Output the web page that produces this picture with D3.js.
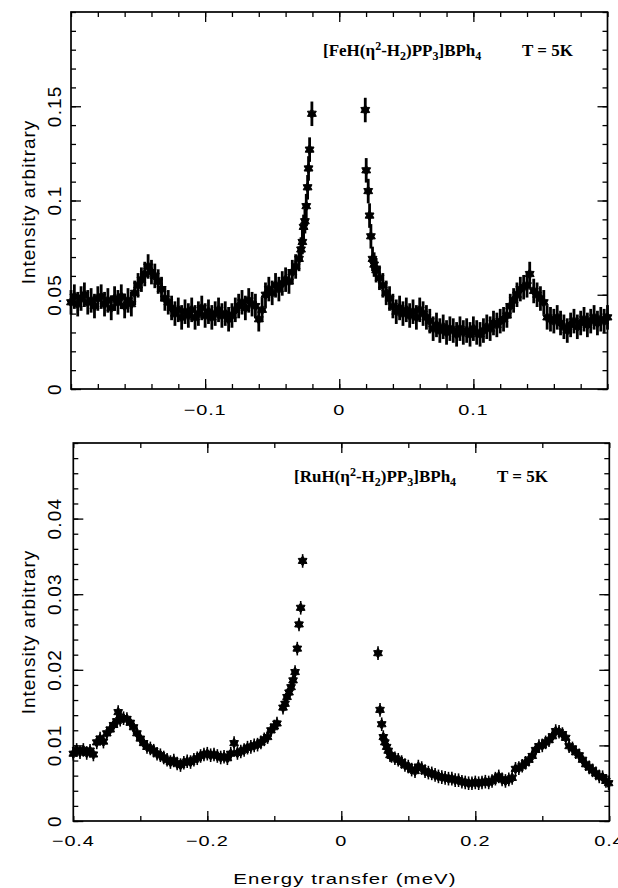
<!DOCTYPE html>
<html>
<head>
<meta charset="utf-8">
<script src="https://cdn.jsdelivr.net/npm/d3@7"></script>
<style>
  body { margin: 0; background: #fff; }
  text { fill: #000; }
</style>
</head>
<body>
<div id="container"></div>
<script>
/* DATA */
// upper panel: [FeH(η2-H2)PP3]BPh4, energy in meV, intensity arbitrary
const feEnergy = [
  -0.2000, -0.1975, -0.1950, -0.1925, -0.1900, -0.1875, -0.1850, -0.1825, -0.1800, -0.1775,
  -0.1750, -0.1725, -0.1700, -0.1675, -0.1650, -0.1625, -0.1600, -0.1575, -0.1550, -0.1525,
  -0.1500, -0.1475, -0.1450, -0.1425, -0.1400, -0.1375, -0.1350, -0.1325, -0.1300, -0.1275,
  -0.1250, -0.1225, -0.1200, -0.1175, -0.1150, -0.1125, -0.1100, -0.1075, -0.1050, -0.1025,
  -0.1000, -0.0975, -0.0950, -0.0925, -0.0900, -0.0875, -0.0850, -0.0825, -0.0800, -0.0775,
  -0.0750, -0.0725, -0.0700, -0.0675, -0.0650, -0.0625, -0.0600, -0.0575, -0.0550, -0.0525,
  -0.0500, -0.0475, -0.0450, -0.0425, -0.0400, -0.0375, -0.0350, -0.0325, -0.0300, -0.0285,
  -0.0275, -0.0266, -0.0256, -0.0246, -0.0236, -0.0229, -0.0221, -0.0204,
  0.0194, 0.0201, 0.0216, 0.0226, 0.0236, 0.0248, 0.0260, 0.0275, 0.0300, 0.0325,
  0.0350, 0.0375, 0.0400, 0.0425, 0.0450, 0.0475, 0.0500, 0.0525, 0.0550, 0.0575,
  0.0600, 0.0625, 0.0650, 0.0675, 0.0700, 0.0725, 0.0750, 0.0775, 0.0800, 0.0825,
  0.0850, 0.0875, 0.0900, 0.0925, 0.0950, 0.0975, 0.1000, 0.1025, 0.1050, 0.1075,
  0.1100, 0.1125, 0.1150, 0.1175, 0.1200, 0.1225, 0.1250, 0.1275, 0.1300, 0.1325,
  0.1350, 0.1375, 0.1400, 0.1420, 0.1450, 0.1475, 0.1500, 0.1525, 0.1550, 0.1575,
  0.1600, 0.1625, 0.1650, 0.1675, 0.1700, 0.1725, 0.1750, 0.1775, 0.1800, 0.1825,
  0.1850, 0.1875, 0.1900, 0.1925, 0.1950, 0.1975, 0.2000
];
const feIntensity = [
  0.046, 0.049, 0.045, 0.048, 0.050, 0.046, 0.047, 0.044, 0.048, 0.049,
  0.045, 0.047, 0.043, 0.048, 0.046, 0.049, 0.044, 0.047, 0.045, 0.051,
  0.055, 0.058, 0.061, 0.065, 0.062, 0.060, 0.057, 0.053, 0.048, 0.046,
  0.043, 0.040, 0.042, 0.038, 0.041, 0.039, 0.042, 0.038, 0.040, 0.043,
  0.039, 0.041, 0.038, 0.040, 0.042, 0.039, 0.040, 0.037, 0.039, 0.042,
  0.044, 0.046, 0.043, 0.047, 0.045, 0.044, 0.037, 0.042, 0.050, 0.053,
  0.051, 0.055, 0.053, 0.056, 0.058, 0.057, 0.062, 0.065, 0.069, 0.074,
  0.078, 0.086, 0.089, 0.097, 0.107, 0.117, 0.127, 0.146,
  0.148, 0.116, 0.105, 0.092, 0.081, 0.069, 0.066, 0.063, 0.059, 0.055,
  0.051, 0.048, 0.044, 0.041, 0.043, 0.040, 0.042, 0.039, 0.041, 0.038,
  0.042, 0.040, 0.038, 0.036, 0.032, 0.034, 0.031, 0.033, 0.030, 0.032,
  0.031, 0.029, 0.032, 0.030, 0.031, 0.029, 0.032, 0.030, 0.029, 0.031,
  0.033, 0.032, 0.035, 0.034, 0.036, 0.037, 0.039, 0.044, 0.047, 0.050,
  0.053, 0.054, 0.055, 0.061, 0.052, 0.050, 0.048, 0.046, 0.038, 0.037,
  0.036, 0.038, 0.035, 0.033, 0.031, 0.034, 0.036, 0.033, 0.035, 0.037,
  0.034, 0.036, 0.038, 0.035, 0.037, 0.036, 0.038
];
const feError = 0.0065;

// lower panel: [RuH(η2-H2)PP3]BPh4
const ruEnergy = [
  -0.400, -0.395, -0.390, -0.385, -0.380, -0.375, -0.370, -0.365, -0.360, -0.355,
  -0.350, -0.345, -0.340, -0.335, -0.333, -0.330, -0.325, -0.320, -0.315, -0.310,
  -0.305, -0.300, -0.295, -0.290, -0.285, -0.280, -0.275, -0.270, -0.265, -0.260,
  -0.255, -0.250, -0.245, -0.240, -0.235, -0.230, -0.225, -0.220, -0.215, -0.210,
  -0.205, -0.200, -0.195, -0.190, -0.185, -0.180, -0.175, -0.170, -0.165, -0.160,
  -0.155, -0.150, -0.145, -0.140, -0.135, -0.130, -0.125, -0.120, -0.115, -0.110,
  -0.105, -0.100, -0.096, -0.087, -0.084, -0.081, -0.078, -0.075, -0.072, -0.069,
  -0.0657, -0.0631, -0.0606, -0.0577,
  0.0548, 0.0578, 0.0603, 0.0627, 0.0650, 0.0677, 0.0700, 0.0727, 0.0750, 0.0800,
  0.0850, 0.0900, 0.0950, 0.1000, 0.1050, 0.1100, 0.1150, 0.1200, 0.1250, 0.1300,
  0.1350, 0.1400, 0.1450, 0.1500, 0.1550, 0.1600, 0.1650, 0.1700, 0.1750, 0.1800,
  0.1850, 0.1900, 0.1950, 0.2000, 0.2050, 0.2100, 0.2150, 0.2200, 0.2250, 0.2300,
  0.2350, 0.2400, 0.2450, 0.2500, 0.2550, 0.2600, 0.2650, 0.2700, 0.2750, 0.2800,
  0.2850, 0.2900, 0.2950, 0.3000, 0.3050, 0.3100, 0.3150, 0.3200, 0.3250, 0.3300,
  0.3350, 0.3400, 0.3450, 0.3500, 0.3550, 0.3600, 0.3650, 0.3700, 0.3750, 0.3800,
  0.3850, 0.3900, 0.3950, 0.3990
];
const ruIntensity = [
  0.0089, 0.0094, 0.0091, 0.0094, 0.0090, 0.0093, 0.0088, 0.0104, 0.0109, 0.0105,
  0.0116, 0.0121, 0.0127, 0.0132, 0.0144, 0.0134, 0.0136, 0.0135, 0.0130, 0.0124,
  0.0116, 0.0109, 0.0103, 0.0098, 0.0096, 0.0093, 0.0089, 0.0087, 0.0084, 0.0081,
  0.0078, 0.0080, 0.0076, 0.0074, 0.0077, 0.0079, 0.0078, 0.0081, 0.0083, 0.0086,
  0.0088, 0.0089, 0.0087, 0.0088, 0.0086, 0.0084, 0.0085, 0.0083, 0.0089, 0.0103,
  0.0090, 0.0092, 0.0094, 0.0097, 0.0098, 0.0100, 0.0101, 0.0104, 0.0108, 0.0111,
  0.0120, 0.0125, 0.0129, 0.0150, 0.0155, 0.0164, 0.0170, 0.0177, 0.0186, 0.0197,
  0.0228, 0.0260, 0.0282, 0.0344,
  0.0222, 0.0147, 0.0128, 0.0111, 0.0104, 0.0098, 0.0093, 0.0087, 0.0086, 0.0083,
  0.0081, 0.0078, 0.0074, 0.0072, 0.0068, 0.0066, 0.0072, 0.0070, 0.0066, 0.0064,
  0.0063, 0.0061, 0.0059, 0.0058, 0.0057, 0.0056, 0.0056, 0.0054, 0.0054, 0.0052,
  0.0051, 0.0050, 0.0050, 0.0051, 0.0050, 0.0051, 0.0052, 0.0051, 0.0053, 0.0056,
  0.0059, 0.0055, 0.0053, 0.0055, 0.0057, 0.0069, 0.0070, 0.0073, 0.0077, 0.0081,
  0.0086, 0.0094, 0.0099, 0.0100, 0.0104, 0.0107, 0.0112, 0.0119, 0.0118, 0.0115,
  0.0110, 0.0099, 0.0096, 0.0091, 0.0087, 0.0081, 0.0075, 0.0071, 0.0067, 0.0063,
  0.0059, 0.0058, 0.0053, 0.0050
];
const ruError = 0.0009;

// tick labels
const feXLabels = [-0.1, 0, 0.1];
const feYLabels = [0, 0.05, 0.1, 0.15];
const ruXLabels = [-0.4, -0.2, 0, 0.2, 0.4];
const ruYLabels = [0, 0.01, 0.02, 0.03, 0.04];

const feTitle = [["[FeH(η"], ["2", "sup"], ["-H"], ["2", "sub"], [")PP"], ["3", "sub"], ["]BPh"], ["4", "sub"]];
const ruTitle = [["[RuH(η"], ["2", "sup"], ["-H"], ["2", "sub"], [")PP"], ["3", "sub"], ["]BPh"], ["4", "sub"]];
const tempLabel = "T = 5K";
const yTitle = "Intensity arbitrary";
const xTitle = "Energy transfer (meV)";

/* CONSTANTS */
const width = 618, height = 888;
const sans = "'Liberation Sans', Arial, sans-serif";
const serif = "'Liberation Serif', 'Times New Roman', serif";

// six point star used for the data markers
const star6 = {
  draw(ctx, size) {
    const r = Math.sqrt(size) * 0.62, ri = r * 0.6;
    for (let i = 0; i < 12; i++) {
      const a = Math.PI * i / 6 - Math.PI / 2;
      const rr = i % 2 ? ri : r;
      if (i === 0) ctx.moveTo(rr * Math.cos(a), rr * Math.sin(a));
      else ctx.lineTo(rr * Math.cos(a), rr * Math.sin(a));
    }
    ctx.closePath();
  }
};

const svg = d3.select("#container")
  .append("svg")
  .attr("width", width)
  .attr("height", height)
  .style("background-color", "#fff");

const panels = [
  {
    xs: feEnergy, ys: feIntensity, err: feError,
    xDomain: [-0.2, 0.2], yDomain: [0, 0.2],
    left: 71, right: 607.5, top: 12, bottom: 389,
    xMinorCount: 20, yMinorCount: 20,
    xMajor: feXLabels, yMajor: feYLabels,
    xLabels: feXLabels, yLabels: feYLabels,
    title: feTitle, titleX: 323, tempX: 522, titleY: 56,
    yTitleY: 202, xLabelY: 415, markSize: 68, errWidth: 2.8
  },
  {
    xs: ruEnergy, ys: ruIntensity, err: ruError,
    xDomain: [-0.4, 0.4], yDomain: [0, 0.05],
    left: 73.3, right: 609.3, top: 443, bottom: 821,
    xMinorCount: 8, yMinorCount: 25,
    xMajor: [-0.2, 0, 0.2], yMajor: ruYLabels,
    xLabels: ruXLabels, yLabels: ruYLabels,
    title: ruTitle, titleX: 294, tempX: 497, titleY: 482,
    yTitleY: 632, xLabelY: 846, markSize: 66, errWidth: 1.6
  }
];

panels.forEach(drawPanel);

// x axis title under the lower panel
svg.append("text")
  .attr("transform", `translate(345,884) scale(1.36,1)`)
  .attr("text-anchor", "middle")
  .style("font-family", sans)
  .style("font-size", "15px")
  .style("letter-spacing", "0.8px")
  .text(xTitle);

function fmt(v) {
  return String(v).replace("-", "\u2212");
}

function drawPanel(p) {
  const x = d3.scaleLinear().domain(p.xDomain).range([p.left, p.right]);
  const y = d3.scaleLinear().domain(p.yDomain).range([p.bottom, p.top]);
  const g = svg.append("g");

  const pts = p.xs.map((v, i) => ({ x: v, y: p.ys[i] }));

  // error bars
  g.selectAll("line.err")
    .data(pts)
    .join("line")
    .attr("class", "err")
    .attr("x1", d => x(d.x))
    .attr("x2", d => x(d.x))
    .attr("y1", d => y(d.y - p.err))
    .attr("y2", d => y(d.y + p.err))
    .attr("stroke", "#000")
    .attr("stroke-width", p.errWidth);

  // markers
  g.selectAll("path.pt")
    .data(pts)
    .join("path")
    .attr("class", "pt")
    .attr("transform", d => `translate(${x(d.x)},${y(d.y)})`)
    .attr("d", d3.symbol(star6, p.markSize))
    .attr("fill", "#000")
    .attr("stroke", "#000")
    .attr("stroke-width", 1);

  // ticks on all four sides, pointing inward
  const xMinor = x.ticks(p.xMinorCount);
  const yMinor = y.ticks(p.yMinorCount);
  const sides = [
    [d3.axisBottom(x), `translate(0,${p.bottom})`, xMinor, p.xMajor],
    [d3.axisTop(x), `translate(0,${p.top})`, xMinor, p.xMajor],
    [d3.axisLeft(y), `translate(${p.left},0)`, yMinor, p.yMajor],
    [d3.axisRight(y), `translate(${p.right},0)`, yMinor, p.yMajor]
  ];
  sides.forEach(([ax, tr, minor, major]) => {
    [[minor, -5], [major, -10]].forEach(([vals, len]) => {
      const a = g.append("g")
        .attr("transform", tr)
        .call(ax.tickValues(vals).tickSize(len).tickFormat(""));
      a.select(".domain").remove();
      a.selectAll("line").attr("stroke", "#000").attr("stroke-width", 1.3);
    });
  });

  // frame
  g.append("rect")
    .attr("x", p.left)
    .attr("y", p.top)
    .attr("width", p.right - p.left)
    .attr("height", p.bottom - p.top)
    .attr("fill", "none")
    .attr("stroke", "#000")
    .attr("stroke-width", 1.7);

  // x tick labels
  g.selectAll("text.xl")
    .data(p.xLabels)
    .join("text")
    .attr("class", "xl")
    .attr("transform", d => `translate(${x(d)},${p.xLabelY}) scale(1.33,1)`)
    .attr("text-anchor", "middle")
    .style("font-family", sans)
    .style("font-size", "15px")
    .style("letter-spacing", "0.6px")
    .text(fmt);

  // y tick labels, rotated
  g.selectAll("text.yl")
    .data(p.yLabels)
    .join("text")
    .attr("class", "yl")
    .attr("transform", d => `translate(61,${y(d)}) rotate(-90)`)
    .attr("text-anchor", "middle")
    .style("font-family", sans)
    .style("font-size", "19px")
    .style("letter-spacing", "1.2px")
    .text(fmt);

  // y axis title
  g.append("text")
    .attr("transform", `translate(35,${p.yTitleY}) rotate(-90)`)
    .attr("text-anchor", "middle")
    .style("font-family", sans)
    .style("font-size", "19px")
    .style("letter-spacing", "1px")
    .text(yTitle);

  // compound label with sub/superscripts
  const t = g.append("text")
    .attr("x", p.titleX)
    .attr("y", p.titleY)
    .style("font-family", serif)
    .style("font-weight", "bold")
    .style("font-size", "17px");
  let shift = 0;
  p.title.forEach(([s, kind]) => {
    const target = kind === "sup" ? -6 : kind === "sub" ? 4 : 0;
    t.append("tspan")
      .attr("dy", target - shift)
      .style("font-size", kind ? "12px" : "17px")
      .text(s);
    shift = target;
  });

  g.append("text")
    .attr("x", p.tempX)
    .attr("y", p.titleY)
    .style("font-family", serif)
    .style("font-weight", "bold")
    .style("font-size", "17px")
    .text(tempLabel);
}
</script>
</body>
</html>
